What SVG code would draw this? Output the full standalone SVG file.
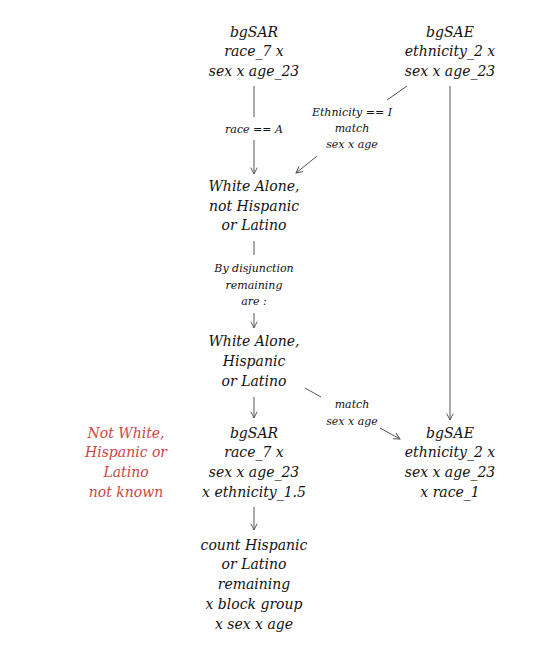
<svg xmlns="http://www.w3.org/2000/svg" width="558" height="663" viewBox="0 0 558 663">
<style>
text{font-family:"DejaVu Serif","Liberation Serif",serif;font-style:italic;text-anchor:middle;fill:#111}
.n{font-size:14px}
.e{font-size:11px}
.red{fill:#d04545}
.c line{stroke:#555;stroke-width:1}
</style>
<defs>
<marker id="ah" viewBox="0 0 10 10" refX="9" refY="5" markerWidth="8" markerHeight="8" markerUnits="userSpaceOnUse" orient="auto">
<path d="M1,1 L9,5 L1,9" fill="none" stroke="#555" stroke-width="1.2"/>
</marker>
</defs>
<rect width="558" height="663" fill="#fff"/>
<g class="c" id="connectors">
<line x1="254" y1="86" x2="254" y2="117"/>
<line x1="254" y1="140" x2="254" y2="174" marker-end="url(#ah)"/>
<line x1="407" y1="86" x2="387" y2="100"/>
<line x1="317" y1="156" x2="296" y2="173" marker-end="url(#ah)"/>
<line x1="450" y1="86" x2="450" y2="420" marker-end="url(#ah)"/>
<line x1="254" y1="241" x2="254" y2="255"/>
<line x1="254" y1="313" x2="254" y2="328" marker-end="url(#ah)"/>
<line x1="254" y1="397" x2="254" y2="418" marker-end="url(#ah)"/>
<line x1="305" y1="388" x2="321" y2="397"/>
<line x1="380" y1="428" x2="400" y2="439" marker-end="url(#ah)"/>
<line x1="254" y1="507" x2="254" y2="530" marker-end="url(#ah)"/>
<text class="e" x="254" y="133">race == A</text>
<text class="e" x="352" y="116">Ethnicity == I</text>
<text class="e" x="352" y="132">match</text>
<text class="e" x="352" y="148">sex x age</text>
<text class="e" x="254" y="272">By disjunction</text>
<text class="e" x="254" y="289">remaining</text>
<text class="e" x="254" y="305">are :</text>
<text class="e" x="352" y="408">match</text>
<text class="e" x="352" y="425">sex x age</text>
</g>
<g id="bgSAR1" class="n">
<text x="254" y="37">bgSAR</text>
<text x="254" y="56">race_7 x</text>
<text x="254" y="76">sex x age_23</text>
</g>
<g id="bgSAE1" class="n">
<text x="450" y="37">bgSAE</text>
<text x="450" y="56">ethnicity_2 x</text>
<text x="450" y="76">sex x age_23</text>
</g>
<g id="whiteNotHisp" class="n">
<text x="254" y="191">White Alone,</text>
<text x="254" y="211">not Hispanic</text>
<text x="254" y="230">or Latino</text>
</g>
<g id="whiteHisp" class="n">
<text x="254" y="346">White Alone,</text>
<text x="254" y="366">Hispanic</text>
<text x="254" y="386">or Latino</text>
</g>
<g id="bgSAR2" class="n">
<text x="254" y="438">bgSAR</text>
<text x="254" y="457">race_7 x</text>
<text x="254" y="477">sex x age_23</text>
<text x="254" y="497">x ethnicity_1.5</text>
</g>
<g id="bgSAE2" class="n">
<text x="450" y="438">bgSAE</text>
<text x="450" y="457">ethnicity_2 x</text>
<text x="450" y="477">sex x age_23</text>
<text x="450" y="497">x race_1</text>
</g>
<g id="notKnown" class="n">
<text class="red" x="126" y="438">Not White,</text>
<text class="red" x="126" y="457">Hispanic or</text>
<text class="red" x="126" y="477">Latino</text>
<text class="red" x="126" y="497">not known</text>
</g>
<g id="count" class="n">
<text x="254" y="550">count Hispanic</text>
<text x="254" y="569">or Latino</text>
<text x="254" y="589">remaining</text>
<text x="254" y="609">x block group</text>
<text x="254" y="629">x sex x age</text>
</g>
</svg>
